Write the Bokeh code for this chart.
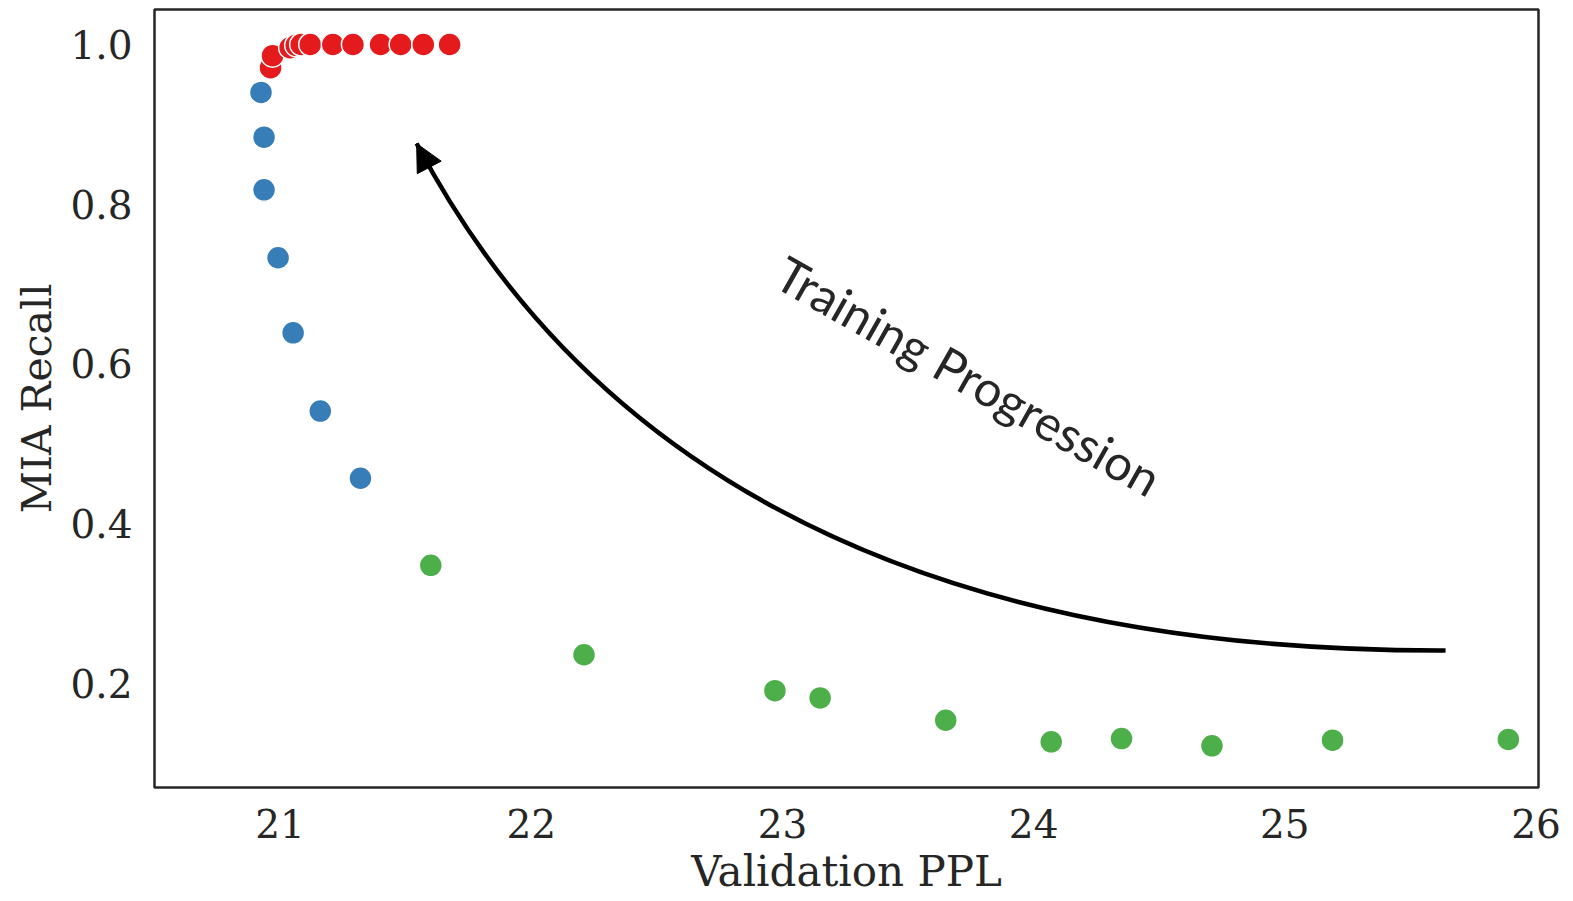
from bokeh.plotting import figure
from bokeh.models import Range1d, Arrow, NormalHead, FixedTicker, PrintfTickFormatter, Title
from bokeh.core.properties import value
from bokeh.embed import file_html
from bokeh.resources import INLINE

# ---- data ----
green_ppl = [21.60, 22.21, 22.97, 23.15, 23.65, 24.07, 24.35, 24.71, 25.19, 25.89]
green_recall = [0.348, 0.236, 0.191, 0.182, 0.154, 0.127, 0.131, 0.122, 0.129, 0.130]

blue_ppl = [21.32, 21.16, 21.052, 20.992, 20.936, 20.936, 20.924]
blue_recall = [0.457, 0.541, 0.639, 0.733, 0.818, 0.884, 0.940]

red_ppl = [20.962, 20.970, 21.04, 21.064, 21.084, 21.12, 21.21, 21.29, 21.40, 21.48, 21.57, 21.675]
red_recall = [0.971, 0.986, 0.996, 0.999, 1.0, 1.0, 1.0, 1.0, 1.0, 1.0, 1.0, 1.0]

x_ticks = [21, 22, 23, 24, 25, 26]
y_ticks = [0.2, 0.4, 0.6, 0.8, 1.0]
x_label = "Validation PPL"
y_label = "MIA Recall"

# annotation arrow (data coords): start, control, tip
arrow_start = (25.640, 0.2413)
arrow_ctrl = (22.611, 0.2388)
arrow_tip = (21.5436, 0.876)
annot_text = "Training Progression"
annot_pos = (23.742, 0.5856)

GREEN = "#4daf4a"
BLUE = "#377eb8"
RED = "#e41a1c"
INK = "#262626"
SERIF = "DejaVu Serif"

X0, X1 = 20.5, 26.01
p = figure(width=1573, height=901, output_backend="svg", toolbar_location=None,
           x_range=Range1d(X0, X1), y_range=Range1d(0.0698, 1.0438),
           min_border_left=154, min_border_right=35, min_border_top=9, min_border_bottom=114)

p.background_fill_color = "white"
p.border_fill_color = "white"
p.outline_line_color = INK
p.outline_line_width = 2.5
p.grid.visible = False

for ax in (p.xaxis[0], p.yaxis[0]):
    ax.axis_line_color = None
    ax.major_tick_line_color = None
    ax.minor_tick_line_color = None
    ax.major_label_text_font = SERIF
    ax.major_label_text_font_size = "39px"
    ax.major_label_text_color = INK
    ax.axis_label_text_font = SERIF
    ax.axis_label_text_font_size = "41px"
    ax.axis_label_text_font_style = "normal"
    ax.axis_label_text_color = INK

p.xaxis.ticker = FixedTicker(ticks=x_ticks)
p.yaxis.ticker = FixedTicker(ticks=y_ticks)
p.yaxis.formatter = PrintfTickFormatter(format="%.1f")
p.yaxis.axis_label = y_label
p.xaxis.major_label_standoff = 15
p.yaxis.major_label_standoff = 16
p.yaxis.axis_label_standoff = 6

# x axis label as a title panel below the axis
p.add_layout(Title(text=x_label, align="center", text_font=SERIF, text_font_size="42px",
                   text_font_style="normal", text_color=INK, standoff=8,
                   text_line_height=0.8), "below")

# arrow
p.quadratic(x0=[arrow_start[0]], y0=[arrow_start[1]], x1=[arrow_tip[0]], y1=[arrow_tip[1]],
            cx=[arrow_ctrl[0]], cy=[arrow_ctrl[1]], line_color="black", line_width=4.5)
back = (arrow_tip[0] - 0.04 * (arrow_tip[0] - arrow_ctrl[0]),
        arrow_tip[1] - 0.04 * (arrow_tip[1] - arrow_ctrl[1]))
p.add_layout(Arrow(end=NormalHead(size=27, fill_color="black", line_color="black", line_width=1),
                   x_start=back[0], y_start=back[1], x_end=arrow_tip[0], y_end=arrow_tip[1],
                   line_alpha=0))

p.text(x=[annot_pos[0]], y=[annot_pos[1]], text=[annot_text], angle=-29.5, angle_units="deg",
       text_font=value("Lato"), text_font_size="49px", text_color=INK,
       text_align="center", text_baseline="middle")

# points
p.scatter(green_ppl, green_recall, size=23, fill_color=GREEN, line_color="white", line_width=1.5)
p.scatter(blue_ppl, blue_recall, size=23, fill_color=BLUE, line_color="white", line_width=1.5)
p.scatter(red_ppl, red_recall, size=23, fill_color=RED, line_color="white", line_width=1.5)

open("out.html", "w").write(file_html(p, INLINE))
